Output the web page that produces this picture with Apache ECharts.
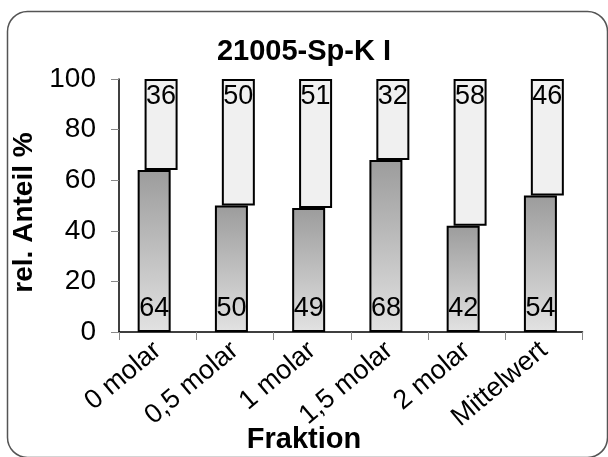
<!DOCTYPE html>
<html>
<head>
<meta charset="utf-8">
<script src="https://cdn.jsdelivr.net/npm/echarts@6/dist/echarts.min.js"></script>
<style>
html,body{margin:0;padding:0;background:#fff;}
#c{width:608px;height:457px;}
</style>
</head>
<body>
<div id="c"></div>
<script>
var categories = ['0 molar', '0,5 molar', '1 molar', '1,5 molar', '2 molar', 'Mittelwert'];
var lowerValues = [64, 50, 49, 68, 42, 54];
var upperValues = [36, 50, 51, 32, 58, 46];
var yTicks = [0, 20, 40, 60, 80, 100];

var FONT = '"Liberation Sans", Arial, sans-serif';
var chart = echarts.init(document.getElementById('c'), null, {renderer: 'canvas'});

var option = {
  backgroundColor: '#ffffff',
  animation: false,
  title: [
    {text: '21005-Sp-K I', left: 'center', top: 32,
     textStyle: {fontFamily: FONT, fontSize: 29, fontWeight: 'bold', color: '#000'}},
    {text: 'Fraktion', left: 'center', top: 420,
     textStyle: {fontFamily: FONT, fontSize: 29, fontWeight: 'bold', color: '#000'}}
  ],
  graphic: [{
    type: 'rect', silent: true, z: -1,
    shape: {x: 7.5, y: 11.5, width: 600, height: 446, r: 20},
    style: {fill: 'none', stroke: '#555', lineWidth: 1.5}
  }],
  grid: {left: 119, right: 25.5, top: 79, bottom: 125, containLabel: false},
  xAxis: {
    type: 'category', data: categories,
    axisLine: {lineStyle: {color: '#000', width: 1.5}},
    axisTick: {show: true, length: 8, alignWithLabel: false, lineStyle: {color: '#888', width: 1}},
    axisLabel: {rotate: 40, fontFamily: FONT, fontSize: 27, color: '#000', margin: 15, interval: 0}
  },
  yAxis: {
    type: 'value', min: 0, max: 100, interval: 20,
    name: 'rel. Anteil %', nameLocation: 'middle', nameGap: 68, nameRotate: 90,
    nameTextStyle: {fontFamily: FONT, fontSize: 28, fontWeight: 'bold', color: '#000', padding: [0, 14, 0, 0]},
    axisLine: {show: true, lineStyle: {color: '#000', width: 1.5}},
    axisTick: {show: true, length: 8, lineStyle: {color: '#888', width: 1}},
    splitLine: {show: false},
    axisLabel: {fontFamily: FONT, fontSize: 28, color: '#000', margin: 23,
      formatter: function (v) { return yTicks.indexOf(v) >= 0 ? String(v) : ''; }}
  },
  series: [
    {
      name: 'unten', type: 'bar', stack: 'a', data: lowerValues,
      barWidth: 33, barGap: '-79%',
      itemStyle: {
        borderColor: '#000', borderWidth: 2,
        color: new echarts.graphic.LinearGradient(0, 0, 0, 1, [
          {offset: 0, color: '#9c9c9c'},
          {offset: 1, color: '#e2e2e2'}
        ])
      },
      label: {show: true, position: 'insideBottom', distance: 10,
        fontFamily: FONT, fontSize: 27, color: '#000'}
    },
    {
      name: 'basis', type: 'bar', stack: 'b', data: lowerValues,
      barWidth: 33, silent: true,
      itemStyle: {color: 'rgba(0,0,0,0)', borderWidth: 0},
      label: {show: false}
    },
    {
      name: 'oben', type: 'bar', stack: 'b', data: upperValues,
      barWidth: 33,
      itemStyle: {color: '#f0f0f0', borderColor: '#000', borderWidth: 2},
      label: {show: true, position: 'insideTop', distance: 4,
        fontFamily: FONT, fontSize: 27, color: '#000'}
    }
  ]
};
chart.setOption(option);
</script>
</body>
</html>
